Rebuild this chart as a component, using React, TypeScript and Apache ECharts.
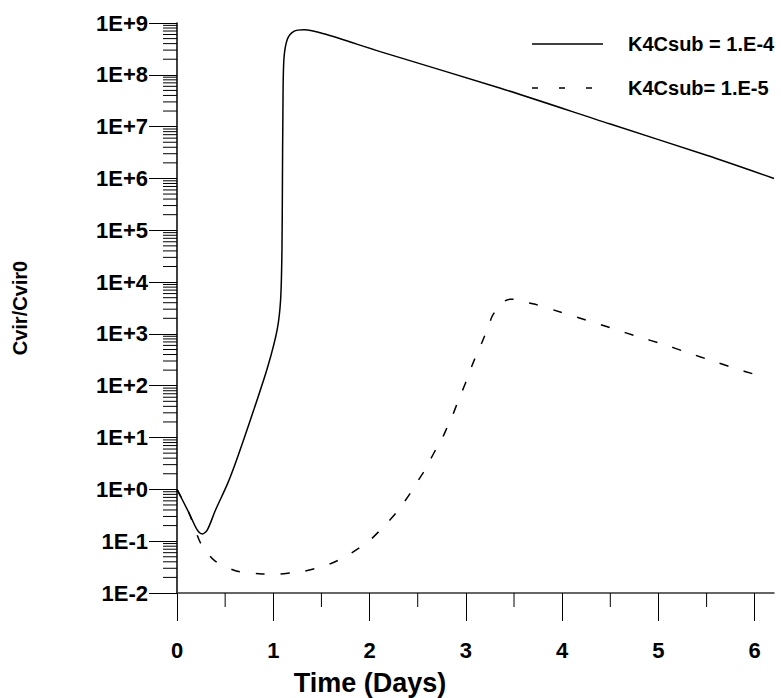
import React, { useEffect, useRef } from "react";
import * as echarts from "echarts";

const FONT = "'Liberation Sans', Arial, sans-serif";

// K4Csub = 1.E-4 (solid)
const solidDays = [0, 0.125, 0.21, 0.263, 0.315, 0.4, 0.523, 0.6, 0.7, 0.8, 0.94, 1.04, 1.076, 1.09, 1.095, 1.1, 1.11, 1.145, 1.214, 1.32, 1.525, 2.11, 3.36, 4.5, 5.5, 6.2];
const solidValues = [1, 0.35, 0.165, 0.138, 0.165, 0.4, 1.26, 2.95, 10, 35.5, 224, 1200, 4570, 41700, 1e6, 2e7, 1.95e8, 4.8e8, 6.9e8, 7.4e8, 6.2e8, 2.8e8, 5.5e7, 1.12e7, 2.8e6, 1e6];

// K4Csub= 1.E-5 (dashed)
const dashedDays = [0, 0.125, 0.22, 0.256, 0.39, 0.585, 0.68, 0.886, 0.99, 1.21, 1.3, 1.49, 1.58, 1.74, 1.81, 1.947, 2.017, 2.13, 2.19, 2.3, 2.35, 2.44, 2.49, 2.58, 2.62, 2.7, 2.75, 2.82, 2.86, 2.925, 2.96, 3.03, 3.06, 3.13, 3.17, 3.24, 3.27, 3.32, 3.375, 3.46, 3.55, 3.65, 3.74, 4.0, 4.26, 4.53, 4.78, 5.05, 5.3, 5.56, 5.82, 6.0];
const dashedValues = [1, 0.347, 0.117, 0.085, 0.042, 0.0278, 0.0251, 0.0233, 0.0229, 0.0247, 0.0258, 0.0316, 0.0358, 0.049, 0.0589, 0.087, 0.11, 0.178, 0.232, 0.398, 0.537, 0.944, 1.35, 2.44, 3.43, 6.46, 9.27, 18.2, 26.3, 53.7, 76.9, 162, 234, 490, 708, 1480, 2140, 3020, 3980, 4680, 4570, 3980, 3630, 2570, 1820, 1260, 891, 631, 437, 302, 209, 166];

const seriesNames = ["K4Csub = 1.E-4", "K4Csub= 1.E-5"];
const xTickValues = [0, 1, 2, 3, 4, 5, 6];
const xMinorTicks = [0.5, 1.5, 2.5, 3.5, 4.5, 5.5];
const yTickValues = [0.01, 0.1, 1, 10, 100, 1e3, 1e4, 1e5, 1e6, 1e7, 1e8, 1e9];
const yMinorTicks: number[] = [];
yTickValues.slice(0, -1).forEach((d) => {
  for (let k = 2; k <= 9; k++) yMinorTicks.push(k * d);
});

const X_MIN = 0;
const X_MAX = 6.2;
const Y_MIN = 0.01;
const Y_MAX = 1e9;

export default function App() {
  const ref = useRef<HTMLDivElement>(null);
  useEffect(() => {
    if (!ref.current) return;
    const chart = echarts.init(ref.current, undefined, { renderer: "svg" });
    const legendText = (y: number, text: string) => ({
      type: "text",
      x: 628,
      y,
      style: {
        text,
        fontFamily: FONT,
        fontWeight: "bold",
        fontSize: 20,
        fill: "#000",
        align: "left",
        verticalAlign: "middle",
        textAlign: "left",
        textVerticalAlign: "middle",
      },
    });
    const option: any = {
      animation: false,
      backgroundColor: "#ffffff",
      grid: { left: 177, right: 7, top: 23, bottom: 105, containLabel: false, outerBoundsMode: "none" },
      xAxis: {
        type: "value",
        min: X_MIN,
        max: X_MAX,
        interval: 1,
        splitLine: { show: false },
        axisLine: { show: true, onZero: false, lineStyle: { color: "#333", width: 1.5 } },
        axisTick: { show: true, length: 28, customValues: xTickValues, lineStyle: { color: "#000", width: 1 } },
        axisLabel: {
          customValues: xTickValues,
          margin: 46,
          fontFamily: FONT,
          fontWeight: "bold",
          fontSize: 22,
          color: "#000",
        },
      },
      yAxis: {
        type: "log",
        logBase: 10,
        min: Y_MIN,
        max: Y_MAX,
        interval: 1,
        splitNumber: 11,
        name: "Cvir/Cvir0",
        nameLocation: "middle",
        nameGap: 147,
        nameRotate: 90,
        nameTextStyle: { fontFamily: FONT, fontWeight: "bold", fontSize: 20, color: "#000" },
        splitLine: { show: false },
        axisLine: { show: true, lineStyle: { color: "#000", width: 1.5 } },
        axisTick: { show: true, length: 28, customValues: yTickValues, lineStyle: { color: "#000", width: 1 } },
        axisLabel: {
          customValues: yTickValues,
          margin: 29,
          fontFamily: FONT,
          fontWeight: "bold",
          fontSize: 22,
          color: "#000",
          formatter: (v: number) => {
            const e = Math.round(Math.log10(v));
            return "1E" + (e >= 0 ? "+" : "") + e;
          },
        },
      },
      graphic: [
        {
          type: "text",
          x: 370,
          y: 683,
          style: {
            text: "Time (Days)",
            fontFamily: FONT,
            fontWeight: "bold",
            fontSize: 27,
            fill: "#000",
            align: "center",
            verticalAlign: "middle",
            textAlign: "center",
            textVerticalAlign: "middle",
          },
        },
        {
          type: "line",
          shape: { x1: 532, y1: 44, x2: 603, y2: 44 },
          style: { stroke: "#000", lineWidth: 1.5 },
        },
        {
          type: "line",
          shape: { x1: 532, y1: 88, x2: 603, y2: 88 },
          style: { stroke: "#000", lineWidth: 1.5, lineDash: [6, 21] },
        },
        legendText(44, seriesNames[0]),
        legendText(88, seriesNames[1]),
      ],
      series: [
        {
          name: seriesNames[0],
          type: "line",
          data: solidDays.map((d, i) => [d, solidValues[i]]),
          showSymbol: false,
          symbol: "none",
          smooth: 0.3,
          lineStyle: { color: "#000", width: 1.5, type: "solid" },
          itemStyle: { color: "#000" },
          z: 3,
        },
        {
          name: seriesNames[1],
          type: "line",
          data: dashedDays.map((d, i) => [d, dashedValues[i]]),
          showSymbol: false,
          symbol: "none",
          smooth: 0.3,
          lineStyle: { color: "#000", width: 1.5, type: [9, 16] },
          itemStyle: { color: "#000" },
          z: 3,
        },
        {
          name: "yMinor",
          type: "custom",
          clip: false,
          silent: true,
          data: yMinorTicks.map((v) => [X_MIN, v]),
          renderItem: (params: any, api: any) => {
            const p = api.coord([X_MIN, api.value(1)]);
            return {
              type: "line",
              shape: { x1: p[0] - 14, y1: p[1], x2: p[0], y2: p[1] },
              style: { stroke: "#000", lineWidth: 1 },
            };
          },
        },
        {
          name: "xMinor",
          type: "custom",
          clip: false,
          silent: true,
          data: xMinorTicks.map((v) => [v, Y_MIN]),
          renderItem: (params: any, api: any) => {
            const p = api.coord([api.value(0), Y_MIN]);
            return {
              type: "line",
              shape: { x1: p[0], y1: p[1], x2: p[0], y2: p[1] + 14 },
              style: { stroke: "#000", lineWidth: 1 },
            };
          },
        },
      ],
    };
    chart.setOption(option);
    return () => chart.dispose();
  }, []);
  return (
    <div
      ref={ref}
      style={{ position: "fixed", left: 0, top: 0, width: 781, height: 698, background: "#fff" }}
    />
  );
}
